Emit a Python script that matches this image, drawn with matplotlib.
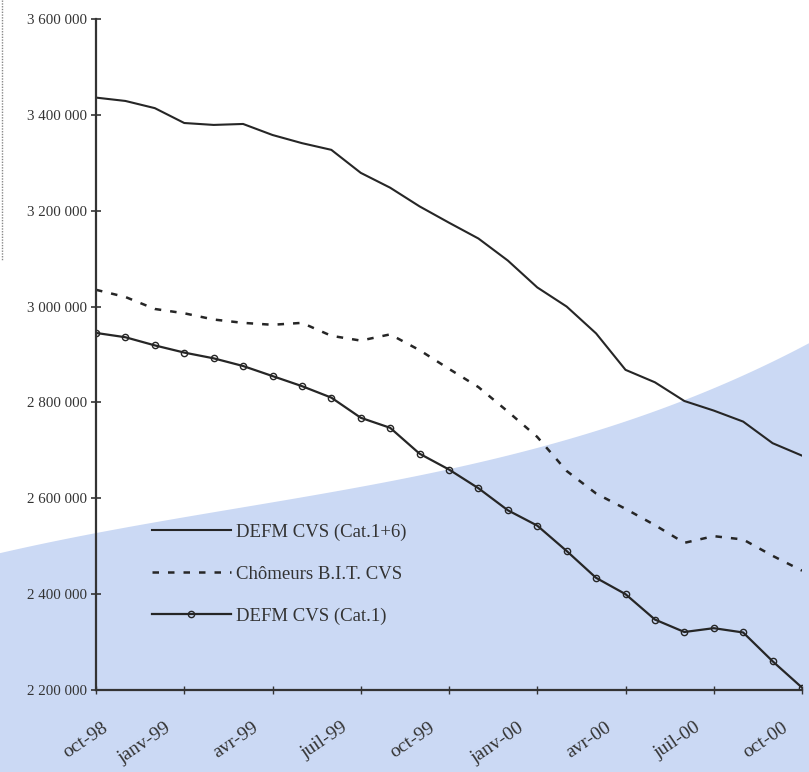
import matplotlib
matplotlib.use("Agg")
import matplotlib.pyplot as plt
import numpy as np
from matplotlib.patches import Polygon
from matplotlib.lines import Line2D
from matplotlib.ticker import FuncFormatter
from matplotlib.transforms import ScaledTranslation

# ---- data (monthly, oct-98 .. oct-00) ----
months = list(range(25))
tick_positions = [0, 3, 6, 9, 12, 15, 18, 21, 24]
tick_labels = ["oct-98", "janv-99", "avr-99", "juil-99", "oct-99",
               "janv-00", "avr-00", "juil-00", "oct-00"]

defm_cat16 = [3436000, 3429000, 3414000, 3383000, 3379000, 3381000, 3358000,
              3341000, 3327000, 3279000, 3248000, 3209000, 3175000, 3142000,
              3096000, 3040000, 3000000, 2944000, 2868000, 2842000, 2803000,
              2783000, 2760000, 2715000, 2689000]

chomeurs_bit = [3035000, 3020000, 2995000, 2986000, 2973000, 2966000, 2962000,
                2966000, 2939000, 2929000, 2942000, 2909000, 2870000, 2832000,
                2781000, 2728000, 2657000, 2610000, 2578000, 2544000, 2507000,
                2521000, 2514000, 2480000, 2449000]

defm_cat1 = [2945000, 2936000, 2919000, 2904000, 2892000, 2876000, 2855000,
             2834000, 2810000, 2768000, 2747000, 2693000, 2660000, 2621000,
             2575000, 2543000, 2490000, 2434000, 2400000, 2347000, 2321000,
             2329000, 2320000, 2260000, 2205000]

y_ticks = [2200000, 2400000, 2600000, 2800000, 3000000, 3200000, 3400000, 3600000]
series_labels = ["DEFM CVS (Cat.1+6)", "Chômeurs B.I.T. CVS", "DEFM CVS (Cat.1)"]

W, H = 809, 772
fig = plt.figure(figsize=(W / 100, H / 100), dpi=100)
fig.patch.set_facecolor("white")

# ---- decorative blue page background (curved band) ----
bx = np.array([0, 90, 200, 290, 420, 540, 680, 809])
by = np.array([553, 535, 513, 500, 477, 445, 403, 343])
coef = np.polyfit(bx, by, 3)
xs = np.linspace(0, W, 200)
ys = np.polyval(coef, xs)
pts = [(x / W, 1 - y / H) for x, y in zip(xs, ys)] + [(1, 0), (0, 0)]
fig.add_artist(Polygon(pts, closed=True, transform=fig.transFigure,
                       facecolor="#cbd9f4", edgecolor="none", zorder=-10))
# page edge dotted line
fig.add_artist(Line2D([2 / W, 2 / W], [1, 1 - 260 / H], transform=fig.transFigure,
                      color="#888888", lw=1.0, ls=(0, (1, 1)), zorder=-5))

ax = fig.add_axes([96 / W, 1 - 690 / H, 706 / W, (690 - 19) / H])
ax.patch.set_alpha(0)

dark = "#262626"
ax.plot(months, defm_cat16, color=dark, lw=1.5, label=series_labels[0])
ax.plot(months, chomeurs_bit, color=dark, lw=1.8, ls=(0, (2.6, 3.6)),
        label=series_labels[1])
ax.plot(months, defm_cat1, color=dark, lw=1.6, marker="o", markersize=4.5,
        markerfacecolor="none", markeredgecolor=dark, markeredgewidth=1.0,
        label=series_labels[2])

ax.set_xlim(0, 24)
ax.set_ylim(2200000, 3600000)
ax.set_xticks(tick_positions)
ax.set_yticks(y_ticks)
ax.yaxis.set_major_formatter(FuncFormatter(lambda v, p: f"{int(v):,}".replace(",", " ")))

for s in ["top", "right"]:
    ax.spines[s].set_visible(False)
for s in ["left", "bottom"]:
    ax.spines[s].set_color("#333333")
    ax.spines[s].set_linewidth(1.6)
ax.tick_params(axis="y", direction="inout", length=7, width=1.2, color="#333333", pad=3)
ax.tick_params(axis="x", direction="inout", length=6, width=1.0, color="#333333", pad=18)

ax.set_xticklabels(tick_labels, rotation=34, ha="right", rotation_mode="anchor",
                   fontsize=14, family="Liberation Serif", color="#333333")
for lab in ax.get_yticklabels():
    lab.set_family("Liberation Serif")
    lab.set_fontsize(10.8)
    lab.set_color("#333333")

# shift x labels left so they sit like in the original
x_shifts = [6, -20, -20, -20, -20, -20, -20, -20, -20]
for lab, dx in zip(ax.get_xticklabels(), x_shifts):
    lab.set_transform(lab.get_transform() + ScaledTranslation(dx / 100, 0, fig.dpi_scale_trans))

leg = ax.legend(loc="center left", bbox_to_anchor=(152 / W, 1 - 574 / H),
                bbox_transform=fig.transFigure, frameon=False,
                prop={"family": "Liberation Serif", "size": 13.5},
                handlelength=4.2, handletextpad=0.3, labelspacing=1.32,
                borderpad=0, borderaxespad=0, numpoints=1)
for t in leg.get_texts():
    t.set_color("#333333")

fig.savefig("out.png", dpi=100)
